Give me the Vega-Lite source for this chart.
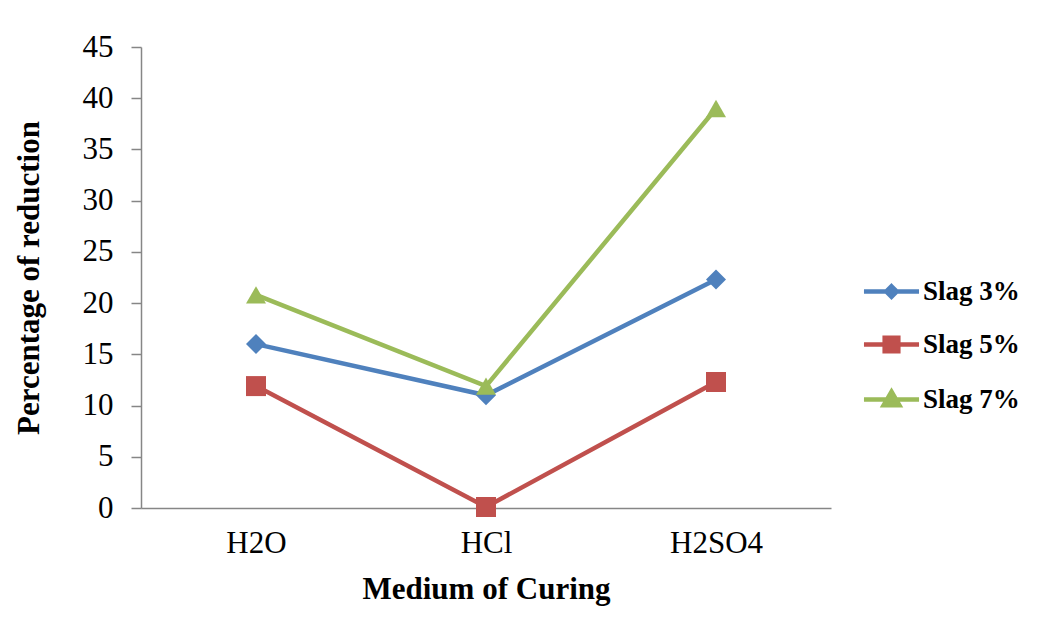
{
  "$schema": "https://vega.github.io/schema/vega-lite/v6.json",
  "width": 690,
  "height": 461,
  "autosize": {"type": "none"},
  "padding": {"left": 141, "top": 47, "right": 208, "bottom": 111},
  "background": "white",
  "config": {
    "view": {"stroke": null},
    "font": "Liberation Serif"
  },
  "data": {
    "values": [
      {"medium": "H2O", "series": "Slag 3%", "value": 16.0},
      {"medium": "HCl", "series": "Slag 3%", "value": 11.0},
      {"medium": "H2SO4", "series": "Slag 3%", "value": 22.3},
      {"medium": "H2O", "series": "Slag 5%", "value": 11.9},
      {"medium": "HCl", "series": "Slag 5%", "value": 0.1},
      {"medium": "H2SO4", "series": "Slag 5%", "value": 12.3},
      {"medium": "H2O", "series": "Slag 7%", "value": 20.8},
      {"medium": "HCl", "series": "Slag 7%", "value": 11.9},
      {"medium": "H2SO4", "series": "Slag 7%", "value": 39.0}
    ]
  },
  "encoding": {
    "x": {
      "field": "medium",
      "type": "nominal",
      "sort": ["H2O", "HCl", "H2SO4"],
      "scale": {"type": "point", "padding": 0.5},
      "axis": {
        "title": "Medium of Curing",
        "labelAngle": 0,
        "labelFont": "Liberation Serif",
        "labelFontSize": 31,
        "labelColor": "black",
        "labelPadding": 20,
        "ticks": false,
        "domainColor": "#868686",
        "domainWidth": 1.5,
        "grid": false,
        "titleFont": "Liberation Serif",
        "titleFontSize": 31,
        "titleFontWeight": "bold",
        "titleColor": "black",
        "titlePadding": 16
      }
    },
    "y": {
      "field": "value",
      "type": "quantitative",
      "scale": {"domain": [0, 45], "nice": false},
      "axis": {
        "title": "Percentage of reduction",
        "values": [0, 5, 10, 15, 20, 25, 30, 35, 40, 45],
        "labelFont": "Liberation Serif",
        "labelFontSize": 31,
        "labelColor": "black",
        "labelPadding": 18,
        "tickSize": 10,
        "tickColor": "#868686",
        "tickWidth": 1.5,
        "domainColor": "#868686",
        "domainWidth": 1.5,
        "grid": false,
        "titleFont": "Liberation Serif",
        "titleFontSize": 31,
        "titleFontWeight": "bold",
        "titleColor": "black",
        "titlePadding": 37
      }
    },
    "color": {
      "field": "series",
      "type": "nominal",
      "scale": {
        "domain": ["Slag 3%", "Slag 5%", "Slag 7%"],
        "range": ["#4F81BD", "#C0504D", "#9BBB59"]
      },
      "legend": {
        "title": null,
        "orient": "none",
        "legendX": 722,
        "legendY": 216,
        "labelFont": "Liberation Serif",
        "labelFontSize": 27,
        "labelFontWeight": "bold",
        "labelColor": "black",
        "labelOffset": 3,
        "symbolSize": 2750,
        "rowPadding": 10,
        "encode": {
          "symbols": {
            "update": {
              "shape": {"signal": "datum.value === 'Slag 3%' ? 'M-1.05,0H1.05M0,-0.2L0.2,0L0,0.2L-0.2,0Z' : datum.value === 'Slag 5%' ? 'M-1.05,0H1.05M-0.26,-0.26H0.26V0.26H-0.26Z' : 'M-1.05,0H1.05M0,-0.3L0.3,0.22H-0.3Z'"},
              "fill": {"signal": "scale('color', datum.value)"},
              "stroke": {"signal": "scale('color', datum.value)"},
              "strokeWidth": {"value": 4.5},
              "opacity": {"value": 1}
            }
          }
        }
      }
    }
  },
  "layer": [
    {
      "mark": {"type": "line", "strokeWidth": 4.5},
      "encoding": {"detail": {"field": "series"}}
    },
    {
      "transform": [{"filter": "datum.series === 'Slag 3%'"}],
      "mark": {"type": "point", "filled": true, "opacity": 1, "size": 400, "shape": "diamond"}
    },
    {
      "transform": [{"filter": "datum.series === 'Slag 5%'"}],
      "mark": {"type": "point", "filled": true, "opacity": 1, "size": 400, "shape": "square"}
    },
    {
      "transform": [{"filter": "datum.series === 'Slag 7%'"}],
      "mark": {"type": "point", "filled": true, "opacity": 1, "size": 400, "shape": "triangle-up"}
    }
  ]
}
